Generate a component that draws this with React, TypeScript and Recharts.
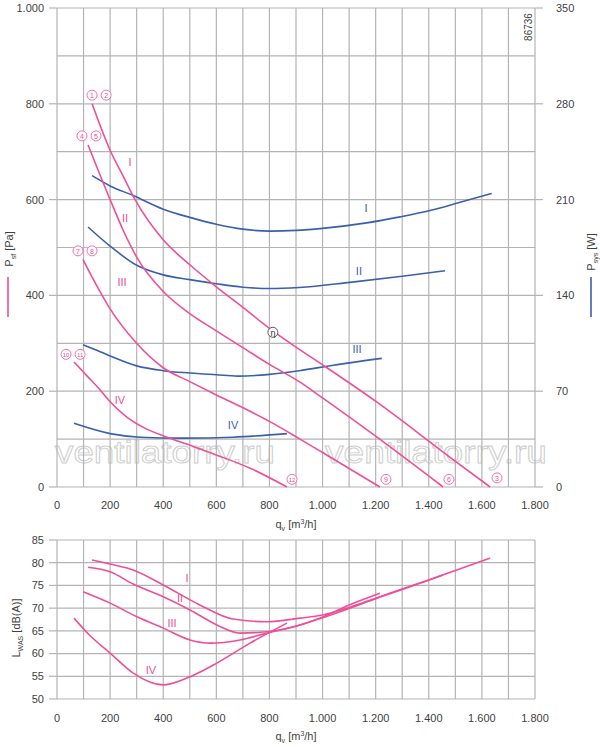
import React from 'react'
import { LineChart, Line, XAxis, YAxis, CartesianGrid, ReferenceDot } from 'recharts'

const PINK = '#ef4f98'
const BLUE = '#3a60ad'
const GRID = '#b4b4b4'
const INK = '#3f3f3f'
const FONT = '"Liberation Sans", Arial, Helvetica, sans-serif'

type Pt = [number, number]

// axes: q_v [m3/h], P_sf [Pa], P_sys [W], L_WAS [dB(A)]
const flowGrid = [0, 100, 200, 300, 400, 500, 600, 700, 800, 900, 1000, 1100, 1200, 1300, 1400, 1500, 1600, 1700, 1800]
const pressGrid = [0, 100, 200, 300, 400, 500, 600, 700, 800, 900, 1000]
const powerTicks = [0, 70, 140, 210, 280, 350]
const soundTicks = [50, 55, 60, 65, 70, 75, 80, 85]

// pressure curves, q -> Pa
const pressI: Pt[] = [[132, 800], [200, 703], [250, 648], [294, 600], [400, 516], [500, 464], [600, 418], [700, 375], [810, 327], [900, 292], [1000, 255], [1205, 177], [1480, 62], [1631, 0]]
const pressII: Pt[] = [[117, 714], [200, 600], [250, 535], [300, 480], [400, 408], [500, 362], [600, 326], [700, 291], [800, 256], [915, 219], [1000, 186], [1205, 104], [1454, 0]]
const pressIII: Pt[] = [[98, 475], [150, 420], [200, 372], [300, 300], [400, 249], [500, 220], [600, 192], [727, 158], [800, 137], [915, 100], [1000, 72], [1216, 0]]
const pressIV: Pt[] = [[64, 261], [111, 233], [162, 203], [200, 178], [263, 146], [327, 124], [415, 104], [491, 89], [605, 66], [732, 38], [866, 0]]

// power curves, q -> W
const powerI: Pt[] = [[132, 227.5], [200, 220], [287, 213], [400, 203], [500, 197], [600, 192], [700, 188.4], [800, 187.0], [900, 187.5], [1000, 189], [1166, 193], [1292, 197.4], [1405, 202], [1518, 208], [1637, 214.5]]
const powerII: Pt[] = [[117, 190], [200, 176], [300, 162], [400, 155], [500, 151.5], [600, 148.5], [700, 146], [800, 145], [912, 145.8], [1103, 149.5], [1300, 154], [1461, 158]]
const powerIII: Pt[] = [[98, 104], [150, 100], [200, 95.8], [300, 88.5], [400, 85], [500, 83.3], [600, 82], [680, 81], [800, 82.3], [912, 85], [1040, 89], [1223, 94]]
const powerIV: Pt[] = [[64, 46.5], [200, 39], [313, 36.4], [475, 35.7], [663, 36.4], [866, 39]]

// sound power curves, q -> dB(A)
const soundI: Pt[] = [[132, 80.6], [200, 79.7], [287, 78.4], [400, 75.1], [538, 70.7], [663, 67.6], [791, 67.0], [915, 67.8], [1000, 68.5], [1103, 70.2], [1205, 72.3], [1300, 74.2], [1405, 76.3], [1500, 78.3], [1631, 81.0]]
const soundII: Pt[] = [[117, 79.0], [200, 78.0], [287, 75.3], [400, 72.5], [501, 69.6], [602, 66.3], [689, 64.5], [791, 64.8], [915, 66.3], [1000, 67.9], [1103, 70.0], [1205, 72.2], [1300, 74.1], [1454, 77.3]]
const soundIII: Pt[] = [[98, 73.6], [200, 71.1], [301, 68.1], [400, 65.6], [501, 63.0], [576, 62.3], [689, 63.0], [791, 64.5], [915, 66.3], [1000, 68.0], [1100, 70.7], [1216, 73.3]]
const soundIV: Pt[] = [[64, 67.8], [120, 64.2], [200, 60.1], [287, 55.7], [400, 53.1], [489, 54.6], [602, 57.9], [727, 62.3], [866, 66.7]]

// curve tags: [q, value, text]
const pressTags: [number, number, string][] = [[275, 678, 'I'], [256, 561, 'II'], [245, 428, 'III'], [237, 181, 'IV']]
const powerTags: [number, number, string][] = [[1164, 204, 'I'], [1137, 158, 'II'], [1130, 101, 'III'], [663, 45, 'IV']]
const soundTags: [number, number, string][] = [[490, 76.6, 'I'], [463, 72.2, 'II'], [433, 66.7, 'III'], [354, 56.4, 'IV']]
// operating point markers: [q, Pa, number]
const pointTags: [number, number, string][] = [
  [132, 818, '1'], [185, 818, '2'], [94, 733, '4'], [147, 733, '5'],
  [79, 493, '7'], [132, 493, '8'], [34, 277, '10'], [87, 277, '11'],
  [885, 16, '12'], [1239, 16, '9'], [1476, 16, '6'], [1657, 19, '3'],
]
const etaTag: Pt = [813, 323]

const toRows = (pts: Pt[]) => pts.map(([q, v]) => ({ q, v }))

function fmt(v: number) {
  return v >= 1000 ? `${Math.floor(v / 1000)}.${String(v % 1000).padStart(3, '0')}` : String(v)
}

// grid every 100, labels every 200
const flowLabel = (v: number) => (v % 200 === 0 ? fmt(v) : '')

const tickStyle = { fill: INK, fontSize: 11, fontFamily: FONT }

// left pressure axis: tick mark + label only on every second grid line
function PressTick(p: any) {
  const v = p.payload.value
  if (v % 200 !== 0) return <g />
  return (
    <g>
      <line x1={p.x + 5} x2={p.x + 13} y1={p.y} y2={p.y} stroke={GRID} strokeWidth={1.2} />
      <text x={p.x} y={p.y} textAnchor="end" dominantBaseline="central" {...tickStyle}>{fmt(v)}</text>
    </g>
  )
}

function tag(text: string, color: string) {
  return (p: any) => (
    <text x={p.cx} y={p.cy} textAnchor="middle" dominantBaseline="central" fill={color} fontSize={11} fontFamily={FONT}>
      {text}
    </text>
  )
}

function circled(text: string, color: string, glyph = 7) {
  return (p: any) => (
    <g>
      <circle cx={p.cx} cy={p.cy} r={5} fill="#fff" stroke={color} strokeWidth={0.8} />
      <text x={p.cx} y={p.cy + 0.4} textAnchor="middle" dominantBaseline="central" fill={color} fontSize={text.length > 1 ? 6 : glyph} fontFamily={FONT}>
        {text}
      </text>
    </g>
  )
}

function Curve({ id, pts, axis, color }: { id: string; pts: Pt[]; axis: string; color: string }) {
  return (
    <Line
      key={id}
      yAxisId={axis}
      data={toRows(pts)}
      dataKey="v"
      type="monotone"
      stroke={color}
      strokeWidth={1.6}
      dot={false}
      activeDot={false}
      isAnimationActive={false}
    />
  )
}

export default function App() {
  const pressSeries: [string, Pt[]][] = [['pI', pressI], ['pII', pressII], ['pIII', pressIII], ['pIV', pressIV]]
  const powerSeries: [string, Pt[]][] = [['wI', powerI], ['wII', powerII], ['wIII', powerIII], ['wIV', powerIV]]
  const soundSeries: [string, Pt[]][] = [['sI', soundI], ['sII', soundII], ['sIII', soundIII], ['sIV', soundIV]]

  return (
    <div style={{ position: 'absolute', left: 0, top: 0, width: 600, height: 747, background: '#fff', fontFamily: FONT }}>
      {/* titles, legend strokes and watermark */}
      <svg width={600} height={747} style={{ position: 'absolute', left: 0, top: 0 }}>
        <g fontFamily={FONT} fill={INK} fontSize={11}>
          <text transform="translate(13,249) rotate(-90)" textAnchor="middle">
            P<tspan fontSize={7} dy={3}>sf</tspan><tspan dy={-3}> [Pa]</tspan>
          </text>
          <line x1={8} x2={8} y1={277} y2={317} stroke={PINK} strokeWidth={1.6} />
          <text transform="translate(595,252) rotate(-90)" textAnchor="middle">
            P<tspan fontSize={7} dy={3}>sys</tspan><tspan dy={-3}> [W]</tspan>
          </text>
          <line x1={591} x2={591} y1={277} y2={317} stroke={BLUE} strokeWidth={1.6} />
          <text x={296} y={528} textAnchor="middle">
            q<tspan fontSize={7} dy={3}>v</tspan><tspan dy={-3}> [m</tspan><tspan fontSize={7} dy={-4}>3</tspan><tspan dy={4}>/h]</tspan>
          </text>
          <text x={296} y={740} textAnchor="middle">
            q<tspan fontSize={7} dy={3}>v</tspan><tspan dy={-3}> [m</tspan><tspan fontSize={7} dy={-4}>3</tspan><tspan dy={4}>/h]</tspan>
          </text>
          <text transform="translate(20,628) rotate(-90)" textAnchor="middle">
            L<tspan fontSize={7} dy={3}>WAS</tspan><tspan dy={-3}> [dB(A)]</tspan>
          </text>
          <text transform="translate(531.5,27) rotate(-90)" textAnchor="middle" fontSize={10}>86736</text>
        </g>
        <g fontFamily={FONT} fontSize={31} fill="#fff" stroke="#cdcdcd" strokeWidth={0.9}>
          <text x={55} y={463} textLength={220} lengthAdjust="spacingAndGlyphs">ventilatorry.ru</text>
          <text x={325} y={463} textLength={222} lengthAdjust="spacingAndGlyphs">ventilatorry.ru</text>
        </g>
      </svg>

      {/* fan curves: static pressure and power input */}
      <div style={{ position: 'absolute', left: 0, top: 0 }}>
        <LineChart width={600} height={530} margin={{ top: 8, right: 5, bottom: 13, left: 7 }}>
          <CartesianGrid yAxisId="p" stroke={GRID} strokeWidth={1.2} />
          <XAxis type="number" dataKey="q" domain={[0, 1800]} ticks={flowGrid} interval={0} tickFormatter={flowLabel}
            axisLine={false} tickLine={false} tickSize={0} tickMargin={14} height={30} tick={tickStyle} allowDataOverflow />
          <YAxis yAxisId="p" domain={[0, 1000]} ticks={pressGrid} interval={0} width={50}
            axisLine={false} tickLine={false} tickSize={8} tickMargin={5} tick={<PressTick />} />
          <YAxis yAxisId="w" orientation="right" domain={[0, 350]} ticks={powerTicks} interval={0} width={60}
            axisLine={false} tickLine={{ stroke: GRID, strokeWidth: 1.2 }} tickSize={8} tickMargin={13} tick={tickStyle} />
          {powerSeries.map(([id, pts]) => Curve({ id, pts, axis: 'w', color: BLUE }))}
          {pressSeries.map(([id, pts]) => Curve({ id, pts, axis: 'p', color: PINK }))}
          {pressTags.map(([q, v, t]) => (
            <ReferenceDot key={'pt' + t} yAxisId="p" x={q} y={v} r={0} shape={tag(t, PINK)} />
          ))}
          {powerTags.map(([q, v, t]) => (
            <ReferenceDot key={'wt' + t} yAxisId="w" x={q} y={v} r={0} shape={tag(t, BLUE)} />
          ))}
          {pointTags.map(([q, v, t]) => (
            <ReferenceDot key={'n' + t} yAxisId="p" x={q} y={v} r={0} shape={circled(t, PINK)} />
          ))}
          <ReferenceDot yAxisId="p" x={etaTag[0]} y={etaTag[1]} r={0} shape={circled('η', '#333', 9)} />
        </LineChart>
      </div>

      {/* sound power level */}
      <div style={{ position: 'absolute', left: 0, top: 530 }}>
        <LineChart width={600} height={217} margin={{ top: 10, right: 65, bottom: 20, left: 7 }}>
          <CartesianGrid yAxisId="s" stroke={GRID} strokeWidth={1.2} />
          <XAxis type="number" dataKey="q" domain={[0, 1800]} ticks={flowGrid} interval={0} tickFormatter={flowLabel}
            axisLine={false} tickLine={false} tickSize={0} tickMargin={15} height={28} tick={tickStyle} allowDataOverflow />
          <YAxis yAxisId="s" domain={[50, 85]} ticks={soundTicks} interval={0} width={50}
            axisLine={false} tickLine={{ stroke: GRID, strokeWidth: 1.2 }} tickSize={8} tickMargin={5} tick={tickStyle} />
          {soundSeries.map(([id, pts]) => Curve({ id, pts, axis: 's', color: PINK }))}
          {soundTags.map(([q, v, t]) => (
            <ReferenceDot key={'st' + t} yAxisId="s" x={q} y={v} r={0} shape={tag(t, PINK)} />
          ))}
        </LineChart>
      </div>
    </div>
  )
}
